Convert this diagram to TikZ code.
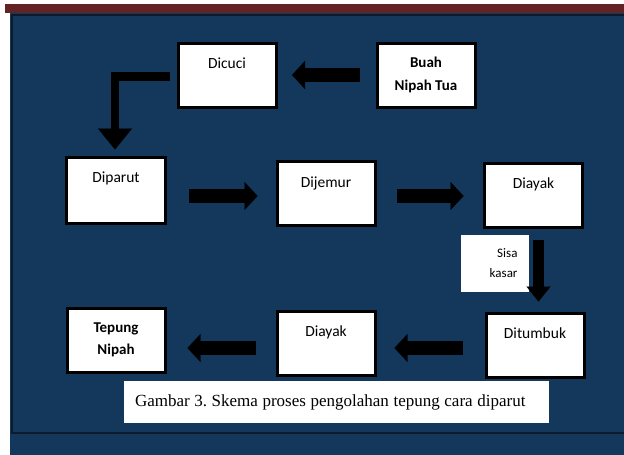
\documentclass[tikz,border=0pt]{standalone}
\usepackage{fontspec}
\setmainfont{Carlito}
\newfontfamily\captionfont{Liberation Serif}
\usetikzlibrary{arrows.meta}
\definecolor{latarbiru}{RGB}{20,55,92}
\definecolor{garisgelap}{RGB}{12,28,45}
\definecolor{pitacoklat}{RGB}{100,35,35}
\tikzset{
  kotak/.style   = {draw = black, line width = 3pt, fill = white,
                    minimum width = 98pt, minimum height = 64pt, inner sep = 0pt},
  proses/.style  = {kotak, font = \fontsize{15.5}{18}\selectfont,
                    text height = 25.5pt, text depth = 38.5pt},
  tebal/.style   = {kotak, align = center, font = \bfseries\fontsize{15}{22.5}\selectfont},
  panah/.style   = {line width = 13.5pt, black,
                    -{Triangle[length = 13pt, width = 28pt, line width = 0.1pt]}},
  panahturun/.style = {line width = 11pt, black,
                    -{Triangle[length = 15pt, width = 24pt, line width = 0.1pt]}},
  panahsiku/.style  = {line width = 8.7pt, black, line join = miter,
                    -{Triangle[length = 21pt, width = 34pt, line width = 0.1pt]}}
}
\frenchspacing
\begin{document}
\begin{tikzpicture}[x = 1pt, y = -1pt]
    % background and frame
    \useasboundingbox[fill = white] (0, 0) rectangle (624, 455);
    \fill[latarbiru]  (10, 13) rectangle (624, 455);
    \fill[pitacoklat] (5, 4)   rectangle (624, 13);
    \draw[garisgelap, line width = 1.5pt] (12, 15) rectangle (640, 433);
    % steps of the process
    \node[tebal]  (buah)     at (426,   75)   {Buah\\Nipah Tua};
    \node[proses] (dicuci)   at (227,   75)   {Dicuci};
    \node[proses, minimum width = 99pt, minimum height = 66pt,
          text depth = 40.5pt] (diparut) at (116, 190) {Diparut};
    \node[proses] (dijemur)  at (326,   193.5) {Dijemur};
    \node[proses] (diayakA)  at (533.5, 195)  {Diayak};
    \node[proses] (ditumbuk) at (535,   345)  {Ditumbuk};
    \node[proses] (diayakB)  at (326,   343)  {Diayak};
    \node[tebal]  (tepung)   at (116,   340)  {Tepung\\Nipah};
    % side note and caption
    \node[fill = white, minimum width = 68pt, minimum height = 57pt,
          text width = 45pt, inner xsep = 11.5pt, align = right,
          font = \fontsize{13}{20}\selectfont] (sisa) at (495, 263.5) {Sisa\\kasar};
    \node[fill = white, minimum width = 425pt, minimum height = 42pt,
          text width = 403pt, inner xsep = 11pt, align = left,
          font = \captionfont\fontsize{17}{20}\selectfont] (judul) at (336.5, 402)
          {\spaceskip = 4.6pt Gambar 3. Skema proses pengolahan tepung cara diparut};
    % arrows
    \draw[panah, shorten <= 16pt, shorten >= 14.5pt] (buah.west) -- (dicuci.east);
    \draw[panahsiku, shorten <= 7pt, shorten >= 6pt]
          ([yshift = -1.5pt]dicuci.west) -| ([xshift = -1pt]diparut.north);
    \draw[panah, shorten <= 22pt, shorten >= 18pt]
          ([yshift = -6pt]diparut.east) -- ([yshift = -2.5pt]dijemur.west);
    \draw[panah, shorten <= 20pt, shorten >= 19.5pt]
          ([yshift = -2.5pt]dijemur.east) -- ([yshift = -1pt]diayakA.west);
    \draw[panahturun, shorten <= 11pt, shorten >= 10pt]
          ([xshift = 5pt]diayakA.south) -- ([xshift = 3.5pt]ditumbuk.north);
    \draw[panah, shorten <= 22pt, shorten >= 18pt]
          ([yshift = -3pt]ditumbuk.west) -- ([yshift = -5pt]diayakB.east);
    \draw[panah, shorten <= 20pt, shorten >= 21pt]
          ([yshift = -5pt]diayakB.west) -- ([yshift = -8pt]tepung.east);
  \end{tikzpicture}
\end{document}
